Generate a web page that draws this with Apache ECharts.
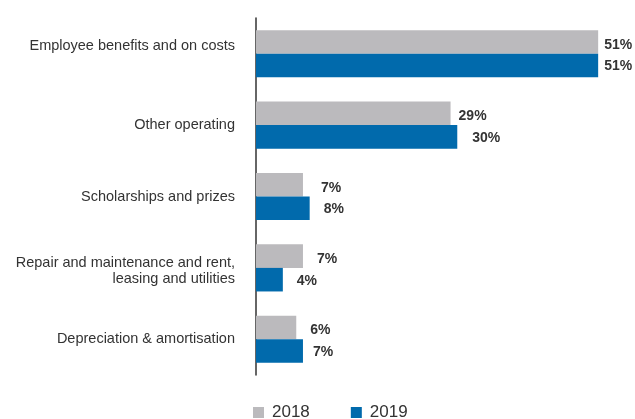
<!DOCTYPE html>
<html>
<head>
<meta charset="utf-8">
<title>Expenses by category</title>
<script src="https://cdn.jsdelivr.net/npm/echarts@6/dist/echarts.min.js"></script>
<style>
  html, body { margin: 0; padding: 0; background: #ffffff; }
  #chart { width: 635px; height: 419px; }
</style>
</head>
<body>
<div id="chart"></div>
<script>
// Expense categories, top to bottom
const categories = [
  'Employee benefits and on costs',
  'Other operating',
  'Scholarships and prizes',
  'Repair and maintenance and rent,\nleasing and utilities',
  'Depreciation & amortisation'
];

// Share of total expenses (%)
const values2018 = [51, 29, 7, 7, 6];
const values2019 = [51, 30, 8, 4, 7];

const seriesNames = ['2018', '2019'];

// Presentation settings
const COLORS = ['#bbbabd', '#016aac'];
const LABEL_GAP_2018 = [6, 8, 18, 14, 14];
const LABEL_GAP_2019 = [6, 15, 14, 14, 10];
const FONT = '"Liberation Sans", Arial, Helvetica, sans-serif';

function barData(values, gaps, dy) {
  return values.map((v, i) => ({
    value: v,
    label: { distance: gaps[i], offset: [0, dy] }
  }));
}

const labelStyle = {
  show: true,
  position: 'right',
  formatter: '{c}%',
  color: '#333333',
  fontFamily: FONT,
  fontSize: 14,
  fontWeight: 'bold'
};

const axisFont = { color: '#333333', fontFamily: FONT, fontSize: 14.5, lineHeight: 16 };

// Category label: the top one sits level with its upper bar,
// the two-line one is nudged down a little by a thin spacer line.
function categoryLabel(value, index) {
  if (index === 0) return '{up|' + value + '}';
  const lines = value.split('\n');
  if (lines.length > 1) {
    return '{sp| }\n' + lines.map(l => '{n|' + l + '}').join('\n');
  }
  return value;
}

const chart = echarts.init(document.getElementById('chart'), null, { renderer: 'canvas' });

chart.setOption({
  animation: false,
  backgroundColor: '#ffffff',
  grid: { left: 256, width: 369, top: 18, height: 357 },
  xAxis: {
    type: 'value',
    min: 0,
    max: 55,
    show: false
  },
  yAxis: {
    type: 'category',
    inverse: true,
    data: categories,
    axisLine: { show: true, lineStyle: { color: '#333333', width: 1.5 } },
    axisTick: { show: false },
    axisLabel: Object.assign({
      margin: 21,
      align: 'right',
      formatter: categoryLabel,
      rich: {
        up: Object.assign({ padding: [0, 0, 16, 0] }, axisFont),
        sp: { fontSize: 4, lineHeight: 7 },
        n: Object.assign({}, axisFont)
      }
    }, axisFont)
  },
  legend: {
    data: seriesNames,
    left: 253,
    top: 404,
    padding: 0,
    icon: 'rect',
    itemWidth: 11,
    itemHeight: 11,
    itemGap: 41,
    textStyle: {
      color: '#333333',
      fontFamily: FONT,
      fontSize: 17,
      padding: [0, 0, 0, 3]
    }
  },
  series: [
    {
      name: seriesNames[0],
      type: 'bar',
      data: barData(values2018, LABEL_GAP_2018, 3),
      barGap: '0%',
      barCategoryGap: '34%',
      itemStyle: { color: COLORS[0] },
      label: labelStyle
    },
    {
      name: seriesNames[1],
      type: 'bar',
      data: barData(values2019, LABEL_GAP_2019, 1),
      barGap: '0%',
      barCategoryGap: '34%',
      itemStyle: { color: COLORS[1] },
      label: labelStyle
    }
  ]
});
</script>
</body>
</html>
